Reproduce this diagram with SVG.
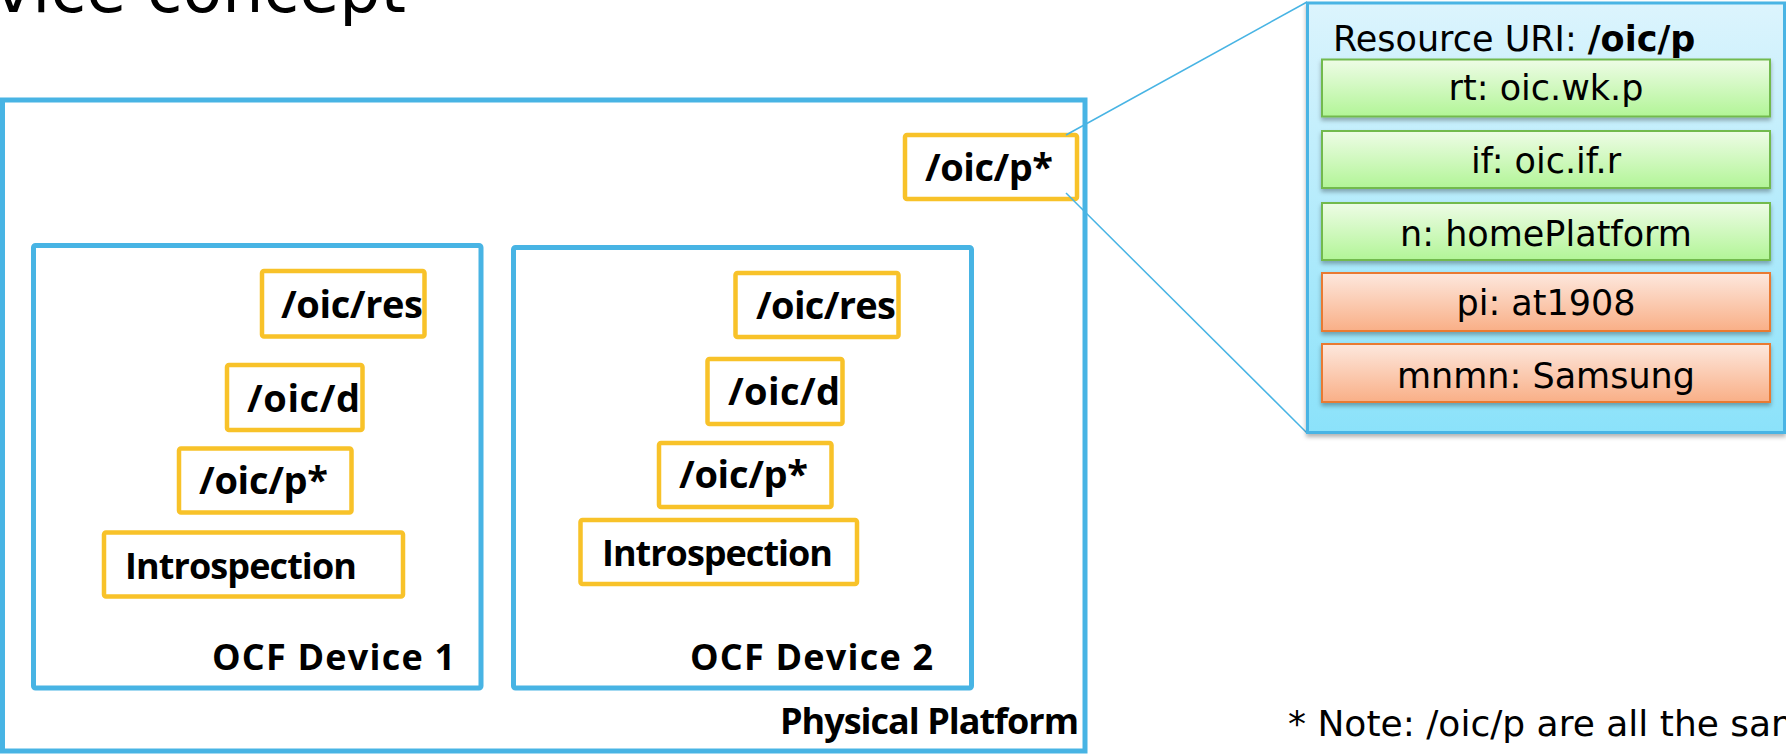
<svg xmlns="http://www.w3.org/2000/svg" width="1786" height="754" viewBox="0 0 1786 754">
<defs>
<linearGradient id="gPop" x1="0" y1="0" x2="0" y2="1"><stop offset="0" stop-color="#dcf4fd"/><stop offset="1" stop-color="#8be2fa"/></linearGradient>
<linearGradient id="gGreen" x1="0" y1="0" x2="0" y2="1"><stop offset="0" stop-color="#eefce6"/><stop offset="1" stop-color="#b2f597"/></linearGradient>
<linearGradient id="gOrange" x1="0" y1="0" x2="0" y2="1"><stop offset="0" stop-color="#fde8de"/><stop offset="1" stop-color="#f9af87"/></linearGradient>
<filter id="sh" x="-5%" y="-20%" width="110%" height="150%"><feDropShadow dx="0" dy="3" stdDeviation="2" flood-color="#000" flood-opacity="0.3"/></filter>
<style>
.blue{fill:none;stroke:#48b4e4;stroke-width:5}
.res{fill:#fff;stroke:#f8c229;stroke-width:4.5}
.lbl{font-family:"Open Sans","Liberation Sans",sans-serif;font-weight:bold;font-size:36px;fill:#000}
.big{font-size:38px}
.cg{font-family:"DejaVu Sans","Liberation Sans",sans-serif;fill:#000}
.row{font-family:"DejaVu Sans","Liberation Sans",sans-serif;font-size:35px;fill:#000;text-anchor:middle}
.green{fill:url(#gGreen);stroke:#72ba4e;stroke-width:2}
.orange{fill:url(#gOrange);stroke:#e97a30;stroke-width:2}
.con{stroke:#48b4e4;stroke-width:1.5;fill:none}
</style>
</defs>
<rect width="1786" height="754" fill="#fff"/>
<text class="cg" x="406" y="12" font-size="65" text-anchor="end">Device concept</text>

<g id="platform">
<rect class="blue" x="2.5" y="100" width="1082.5" height="651"/>
<text class="lbl" x="780" y="734" font-size="35" textLength="299">Physical Platform</text>
</g>

<g id="device1">
<rect class="blue" x="33.5" y="245.5" width="447.5" height="442.5" rx="2"/>
<text class="lbl" x="212" y="670" textLength="243">OCF Device 1</text>
</g>
<g id="dev1-res"><rect class="res" x="262" y="271" width="162.5" height="65.5" rx="2"/><text class="lbl big" x="281" y="318" textLength="142">/oic/res</text></g>
<g id="dev1-d"><rect class="res" x="227" y="365" width="135.5" height="65" rx="2"/><text class="lbl big" x="247" y="412" textLength="113">/oic/d</text></g>
<g id="dev1-p"><rect class="res" x="179" y="448.5" width="172.5" height="64" rx="2"/><text class="lbl big" x="199" y="494" textLength="129">/oic/p*</text></g>
<g id="dev1-intro"><rect class="res" x="104" y="532.5" width="299" height="64" rx="2"/><text class="lbl" x="125" y="579" font-size="35" textLength="232">Introspection</text></g>

<g id="device2">
<rect class="blue" x="513.5" y="247.5" width="458" height="440.5" rx="2"/>
<text class="lbl" x="690" y="670" textLength="243">OCF Device 2</text>
</g>
<g id="dev2-res"><rect class="res" x="735.5" y="273" width="163" height="64" rx="2"/><text class="lbl big" x="756" y="319" textLength="140">/oic/res</text></g>
<g id="dev2-d"><rect class="res" x="707.5" y="359" width="135" height="65" rx="2"/><text class="lbl big" x="728" y="405" textLength="112">/oic/d</text></g>
<g id="dev2-p"><rect class="res" x="659" y="443" width="172.5" height="64" rx="2"/><text class="lbl big" x="679" y="488" textLength="129">/oic/p*</text></g>
<g id="dev2-intro"><rect class="res" x="580.5" y="520" width="276.5" height="64" rx="2"/><text class="lbl" x="602" y="566" font-size="35" textLength="231">Introspection</text></g>

<g id="platform-p"><rect class="res" x="905" y="135" width="172" height="64" rx="2"/><text class="lbl big" x="925" y="181" textLength="128">/oic/p*</text></g>

<g id="connectors">
<line class="con" x1="1066" y1="135" x2="1307" y2="2"/>
<line class="con" x1="1066" y1="193" x2="1307" y2="433"/>
</g>

<g id="popup">
<rect x="1307.5" y="3" width="477" height="429.5" fill="url(#gPop)" stroke="#48b4e4" stroke-width="3" filter="url(#sh)"/>
<text class="cg" x="1333" y="51" font-size="35">Resource URI: <tspan font-weight="bold">/oic/p</tspan></text>
<g id="row-rt"><rect class="green" x="1322" y="59.5" width="448" height="57" filter="url(#sh)"/><text class="row" x="1546" y="100">rt: oic.wk.p</text></g>
<g id="row-if"><rect class="green" x="1322" y="131" width="448" height="57" filter="url(#sh)"/><text class="row" x="1546" y="173">if: oic.if.r</text></g>
<g id="row-n"><rect class="green" x="1322" y="203" width="448" height="57" filter="url(#sh)"/><text class="row" x="1546" y="246">n: homePlatform</text></g>
<g id="row-pi"><rect class="orange" x="1322" y="273" width="448" height="58" filter="url(#sh)"/><text class="row" x="1546" y="315">pi: at1908</text></g>
<g id="row-mnmn"><rect class="orange" x="1322" y="344" width="448" height="58" filter="url(#sh)"/><text class="row" x="1546" y="388">mnmn: Samsung</text></g>
</g>

<text class="cg" x="1288" y="736" font-size="36">* Note: /oic/p are all the same</text>
</svg>
